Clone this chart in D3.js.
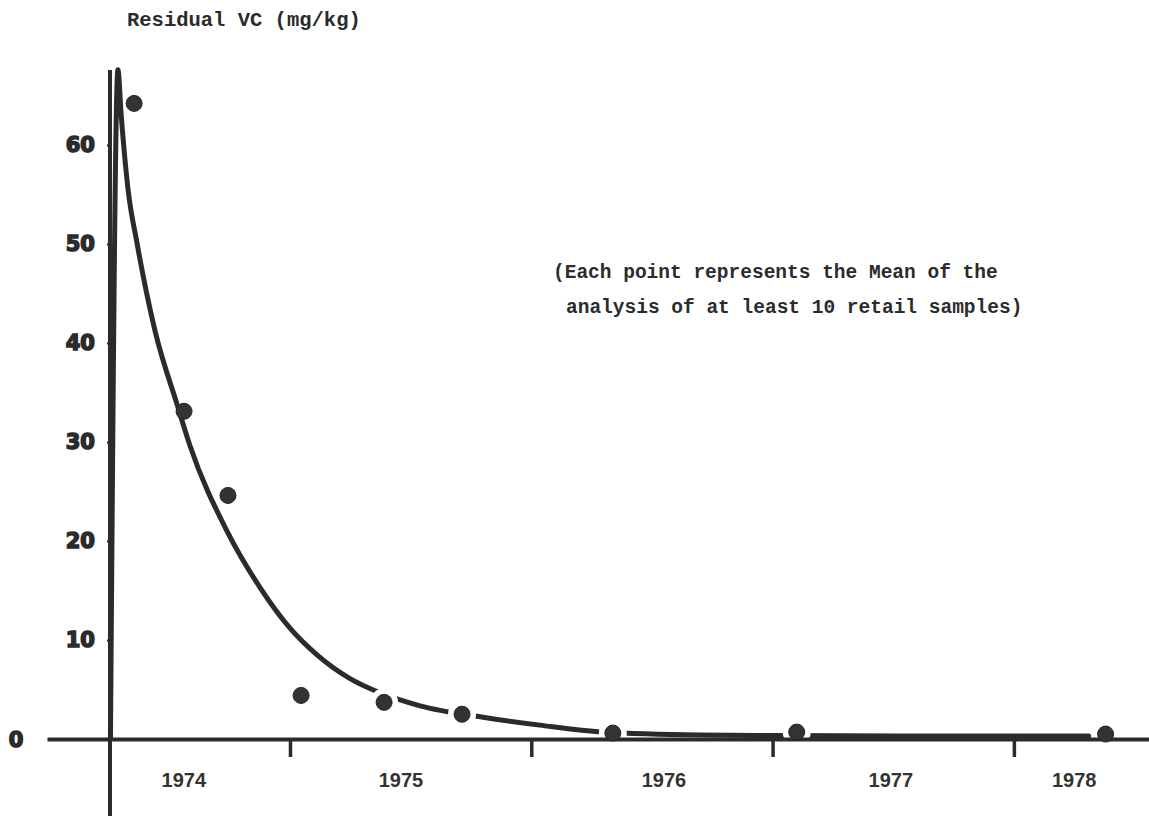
<!DOCTYPE html>
<html>
<head>
<meta charset="utf-8">
<script src="https://cdn.jsdelivr.net/npm/d3@7"></script>
<style>
  html, body { margin: 0; padding: 0; background: #fff; }
  svg { display: block; }
</style>
</head>
<body>
<svg id="chart" width="1149" height="816"></svg>
<script>
// ---------------- data ----------------
const titleText = "Residual VC (mg/kg)";
const noteLines = ["(Each point represents the Mean of the",
                   "analysis of at least 10 retail samples)"];

const yTickValues = [0, 10, 20, 30, 40, 50, 60];
const xTickYears = [1975, 1976, 1977, 1978];
const yearLabels = ["1974", "1975", "1976", "1977", "1978"];
const yearLabelAt = [1974.56, 1975.46, 1976.55, 1977.49, 1978.25];

// observed means (time in decimal years, value in mg/kg)
const pointYears  = [1974.354, 1974.561, 1974.743, 1975.046, 1975.39, 1975.713, 1976.338, 1977.10, 1978.38];
const pointValues = [64.2, 33.1, 24.6, 4.4, 3.7, 2.5, 0.6, 0.7, 0.5];

// hand-drawn fitted decay curve
const curveYears  = [1974.256, 1974.287, 1974.30, 1974.329, 1974.366, 1974.441, 1974.532, 1974.586, 1974.739,
                     1974.876, 1975.0, 1975.112, 1975.249, 1975.36, 1975.45, 1975.539, 1975.80, 1976.036, 1976.293,
                     1976.70, 1977.04, 1977.53, 1978.31];
const curveValues = [0, 67.6, 63.2, 55.5, 50.1, 41.2, 33.8, 29.6, 21.0,
                     15.3, 11.2, 8.5, 6.1, 4.8, 4.0, 3.35, 2.2, 1.4, 0.7,
                     0.4, 0.35, 0.3, 0.3];

const yAxisYear = 1974.254;

// ---------------- drawing ----------------
const ink = "#2b2b2b";
const svg = d3.select("#chart");

const x = d3.scaleLinear().domain([1973.993, 1978.56]).range([47, 1149]);
const y = d3.scaleLinear().domain([0, 60]).range([739, 145]);

// title
svg.append("text")
  .attr("x", 127).attr("y", 26)
  .attr("font-family", "'Liberation Mono', 'DejaVu Sans Mono', monospace")
  .attr("font-weight", "bold")
  .attr("font-size", 20.5)
  .attr("fill", ink)
  .text(titleText);

// note
svg.append("g").selectAll("text").data(noteLines).join("text")
  .attr("x", (d, i) => i === 0 ? 553 : 566)
  .attr("y", (d, i) => 278 + i * 35)
  .attr("font-family", "'Liberation Mono', 'DejaVu Sans Mono', monospace")
  .attr("font-weight", "bold")
  .attr("font-size", 19.5)
  .attr("fill", ink)
  .text(d => d);

// fitted curve
const line = d3.line()
  .x((d, i) => x(curveYears[i]))
  .y(d => y(d))
  .curve(d3.curveMonotoneX);

svg.append("path")
  .datum(curveValues)
  .attr("d", line)
  .attr("fill", "none")
  .attr("stroke", ink)
  .attr("stroke-width", 5)
  .attr("stroke-linecap", "round")
  .attr("stroke-linejoin", "round");

// halos (gaps in curve around points lying on it)
svg.append("g").selectAll("circle")
  .data(pointValues.map((v, i) => i).filter(i => i >= 4))
  .join("circle")
  .attr("cx", i => x(pointYears[i]))
  .attr("cy", i => y(pointValues[i]))
  .attr("r", 14)
  .attr("fill", "#fff");

// x axis
const xAxis = d3.axisBottom(x)
  .tickValues(xTickYears)
  .tickSize(18)
  .tickSizeOuter(0)
  .tickFormat("");
const gx = svg.append("g").attr("transform", `translate(0,${y(0)})`).call(xAxis);
gx.select(".domain").attr("stroke", ink).attr("stroke-width", 4);
gx.selectAll(".tick line").attr("stroke", ink).attr("stroke-width", 3.5);

// year labels
svg.append("g").selectAll("text").data(yearLabels).join("text")
  .attr("x", (d, i) => x(yearLabelAt[i]))
  .attr("y", 787)
  .attr("text-anchor", "middle")
  .attr("font-family", "'Liberation Sans', Arial, sans-serif")
  .attr("font-weight", "bold")
  .attr("font-size", 20)
  .attr("fill", "#333")
  .text(d => d);

// y axis
const yAxis = d3.axisLeft(y)
  .tickValues(yTickValues.filter(v => v > 0))
  .tickSize(3)
  .tickPadding(12)
  .tickFormat(d3.format("d"));
const gy = svg.append("g").attr("transform", `translate(${x(yAxisYear)},0)`).call(yAxis);
gy.select(".domain").remove();
gy.selectAll(".tick line").attr("stroke", ink).attr("stroke-width", 2);
gy.selectAll(".tick text")
  .attr("font-family", "'DejaVu Sans', sans-serif")
  .attr("font-weight", "bold")
  .attr("font-size", 21)
  .attr("fill", ink)
  .attr("stroke", ink)
  .attr("stroke-width", 1.5);

svg.append("line")
  .attr("x1", x(yAxisYear)).attr("x2", x(yAxisYear))
  .attr("y1", 70).attr("y2", 816)
  .attr("stroke", ink).attr("stroke-width", 4);

// zero label far left
svg.append("text")
  .attr("x", 16).attr("y", y(0))
  .attr("dy", "0.36em")
  .attr("text-anchor", "middle")
  .attr("font-family", "'DejaVu Sans', sans-serif")
  .attr("font-weight", "bold")
  .attr("font-size", 21)
  .attr("fill", ink)
  .attr("stroke", ink)
  .attr("stroke-width", 1.5)
  .text(yTickValues[0]);

// points
svg.append("g").selectAll("circle")
  .data(pointValues)
  .join("circle")
  .attr("cx", (d, i) => x(pointYears[i]))
  .attr("cy", d => y(d))
  .attr("r", 8)
  .attr("fill", "#333")
  .attr("stroke", "#222")
  .attr("stroke-width", 1);
</script>
</body>
</html>
